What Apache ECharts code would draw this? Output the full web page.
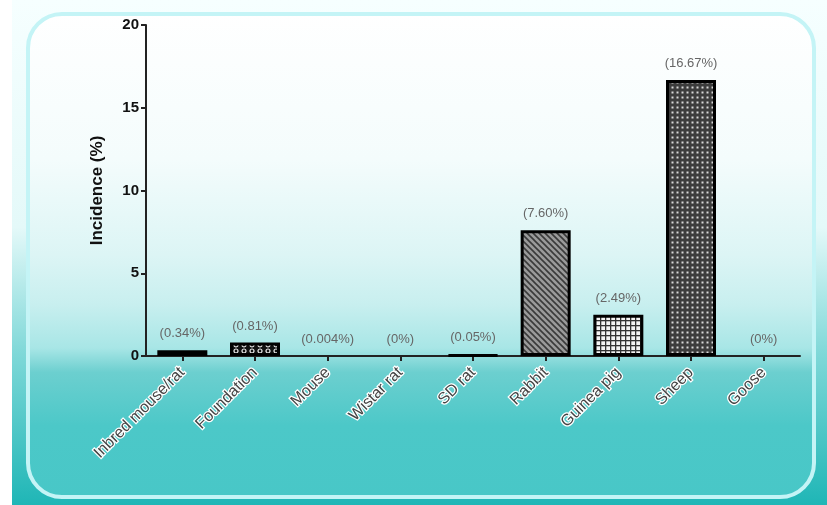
<!DOCTYPE html>
<html>
<head>
<meta charset="utf-8">
<script src="https://cdn.jsdelivr.net/npm/echarts@6/dist/echarts.min.js"></script>
<style>html,body{margin:0;padding:0;background:#fff;}#c{width:827px;height:505px;}</style>
</head>
<body>
<div id="c"></div>
<script>
const categories = ['Inbred mouse/rat','Foundation','Mouse','Wistar rat','SD rat','Rabbit','Guinea pig','Sheep','Goose'];
const values = [0.34, 0.81, 0.004, 0, 0.05, 7.60, 2.49, 16.67, 0];
const valueLabels = ['(0.34%)','(0.81%)','(0.004%)','(0%)','(0.05%)','(7.60%)','(2.49%)','(16.67%)','(0%)'];
const yTicks = [0, 5, 10, 15, 20];

function mk(w, h, draw) {
  const c = document.createElement('canvas');
  c.width = w; c.height = h;
  draw(c.getContext('2d'));
  return {image: c, repeat: 'repeat'};
}
const patInbred = mk(4, 4, g => { g.fillStyle = '#1a1a1a'; g.fillRect(0,0,4,4); g.fillStyle='#555'; g.fillRect(0,0,1,1); g.fillRect(2,2,1,1); });
const patFoundation = mk(8, 6, g => { g.fillStyle = '#111'; g.fillRect(0,0,8,6); g.strokeStyle='#eee'; g.lineWidth=1.2; g.beginPath(); g.arc(4,3,2,0,Math.PI*2); g.stroke(); });
const patRabbit = mk(6, 6, g => { g.fillStyle = '#9a9a9a'; g.fillRect(0,0,6,6); g.strokeStyle='#3a3a3a'; g.lineWidth=1.6; g.beginPath(); g.moveTo(-1,-1); g.lineTo(7,7); g.moveTo(-4,2); g.lineTo(4,10); g.moveTo(2,-4); g.lineTo(10,4); g.stroke(); });
const patGuinea = mk(5, 5, g => { g.fillStyle = '#f4f4f4'; g.fillRect(0,0,5,5); g.fillStyle='#333'; g.fillRect(0,0,5,1.3); g.fillRect(0,0,1.3,5); });
const patSheep = mk(5, 5, g => { g.fillStyle = '#3c3c3c'; g.fillRect(0,0,5,5); g.fillStyle='#d8d8d8'; g.fillRect(1.5,1.5,2,2); });
const patterns = [patInbred, patFoundation, patInbred, patInbred, patInbred, patRabbit, patGuinea, patSheep, patInbred];

const chart = echarts.init(document.getElementById('c'), null, {renderer: 'canvas'});
chart.setOption({
  animation: false,
  graphic: [
    {type:'rect', z:-10, silent:true, shape:{x:12,y:0,width:815,height:505},
     style:{fill:new echarts.graphic.LinearGradient(0,0,0,1,[
       {offset:0,color:'#f6ffff'},{offset:0.45,color:'#e4f9f9'},{offset:0.7,color:'#7fd8d8'},{offset:1,color:'#1fb6b6'}])}},
    {type:'rect', z:-9, silent:true, shape:{x:28,y:14,width:786,height:483,r:34},
     style:{fill:new echarts.graphic.LinearGradient(0,0,0,1,[
       {offset:0,color:'#ffffff'},{offset:0.3,color:'#f4fcfc'},{offset:0.5,color:'#dcf5f5'},{offset:0.6,color:'#c8efef'},
       {offset:0.69,color:'#a8e6e6'},{offset:0.74,color:'#6ccfcf'},{offset:0.85,color:'#4cc8c8'},{offset:1,color:'#48c7c7'}]),
       stroke:'#c4f4f6', lineWidth:4}}
  ],
  grid: {left:146, right:27, top:25, bottom:149, containLabel:false},
  xAxis: {
    type:'category', data:categories,
    axisLine:{show:true, lineStyle:{color:'#222', width:2}},
    axisTick:{show:true, alignWithLabel:true, length:5, lineStyle:{color:'#222', width:2}},
    axisLabel:{rotate:45, interval:0, margin:14, fontFamily:'Liberation Sans, Arial', fontSize:16, color:'#444',
      textBorderColor:'#ffffff', textBorderWidth:2.5}
  },
  yAxis: {
    type:'value', min:0, max:20, interval:5,
    name:'Incidence (%)', nameLocation:'middle', nameGap:40, nameRotate:90,
    nameTextStyle:{fontFamily:'Liberation Sans, Arial', fontSize:17, fontWeight:'bold', color:'#111'},
    axisLine:{show:true, lineStyle:{color:'#222', width:2}},
    axisTick:{show:true, length:5, lineStyle:{color:'#222', width:2}},
    axisLabel:{fontFamily:'Liberation Sans, Arial', fontSize:15, fontWeight:'bold', color:'#111', margin:7,
      formatter: v => yTicks.includes(v) ? String(v) : ''},
    splitLine:{show:false}
  },
  series: [{
    type:'bar', barWidth:50,
    data: values.map((v,i)=>({value:v, itemStyle:{color:patterns[i], borderWidth: v < 0.01 ? 0 : 3}})),
    itemStyle:{borderColor:'#000', borderWidth:3},
    label:{show:true, position:'top', distance:10, fontFamily:'Liberation Sans, Arial', fontSize:13, color:'#666',
      formatter: p => valueLabels[p.dataIndex]}
  }]
});
</script>
</body>
</html>
